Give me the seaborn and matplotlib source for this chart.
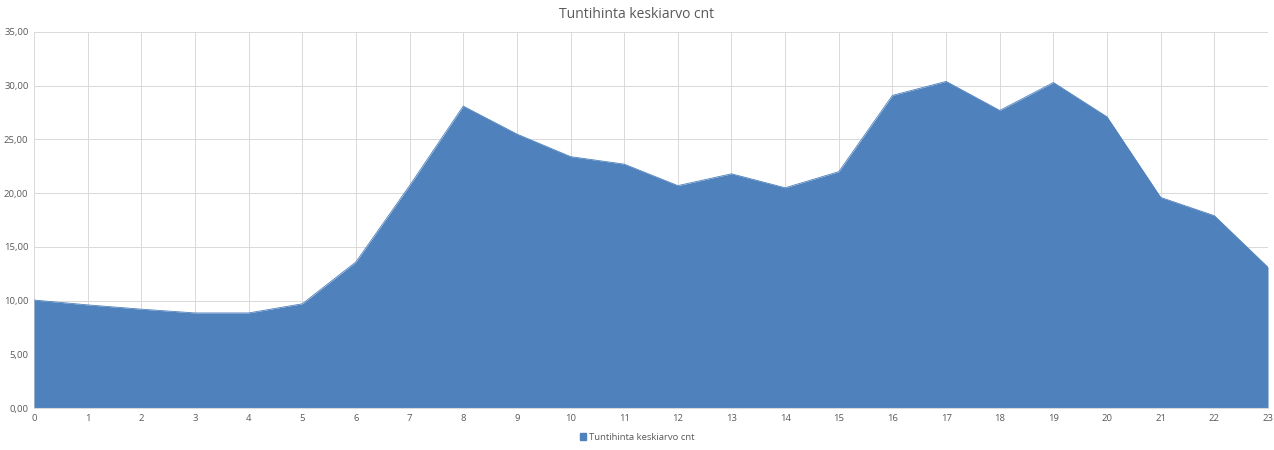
import matplotlib

matplotlib.use("Agg")
import matplotlib.pyplot as plt  # noqa: E402
from matplotlib.patches import Patch  # noqa: E402
import pandas as pd
import seaborn as sns

hours = list(range(24))
price = [10.05, 9.6, 9.2, 8.85, 8.85, 9.7, 13.6, 20.7, 28.1, 25.5, 23.4, 22.7,
         20.7, 21.8, 20.5, 22.0, 29.1, 30.4, 27.7, 30.3, 27.1, 19.6, 17.9, 13.1]
y_ticks = [0, 5, 10, 15, 20, 25, 30, 35]
series_name = "Tuntihinta keskiarvo cnt"

fill = "#4F81BD"
grid = "#D9D9D9"
text = "#595959"

sns.set_theme(style="white")
plt.rcParams["font.family"] = ["Open Sans", "DejaVu Sans"]

df = pd.DataFrame({"hour": hours, "price": price})

fig = plt.figure(figsize=(12.74, 4.5), dpi=100)
ax = fig.add_axes([0.0267, 0.0933, 0.9686, 0.8356])

sns.lineplot(data=df, x="hour", y="price", ax=ax, color=fill, linewidth=0.6)
ax.fill_between(df["hour"], df["price"], 0, color=fill, linewidth=0, zorder=2)

ax.set_xlim(0, 23)
ax.set_ylim(0, 35)
ax.set_xticks(hours)
ax.set_xticklabels([str(h) for h in hours])
ax.set_yticks(y_ticks)
ax.set_yticklabels([f"{v:.2f}".replace(".", ",") for v in y_ticks])
ax.tick_params(axis="both", labelsize=6.8, colors=text, length=0, pad=4)
ax.grid(True, color=grid, linewidth=0.7)
ax.set_axisbelow(True)
ax.set_xlabel("")
ax.set_ylabel("")
for side in ["top", "right", "left"]:
    ax.spines[side].set_visible(False)
ax.spines["bottom"].set_color(grid)
ax.spines["bottom"].set_linewidth(0.8)

fig.suptitle(series_name, y=0.985, fontsize=10, color=text)

handle = Patch(facecolor=fill, edgecolor=fill)
fig.legend([handle], [series_name], loc="lower center", bbox_to_anchor=(0.5, 0.0),
           frameon=False, fontsize=6.8, labelcolor=text, handlelength=0.7,
           handleheight=0.7, handletextpad=0.3)

fig.savefig("out.png", dpi=100)
